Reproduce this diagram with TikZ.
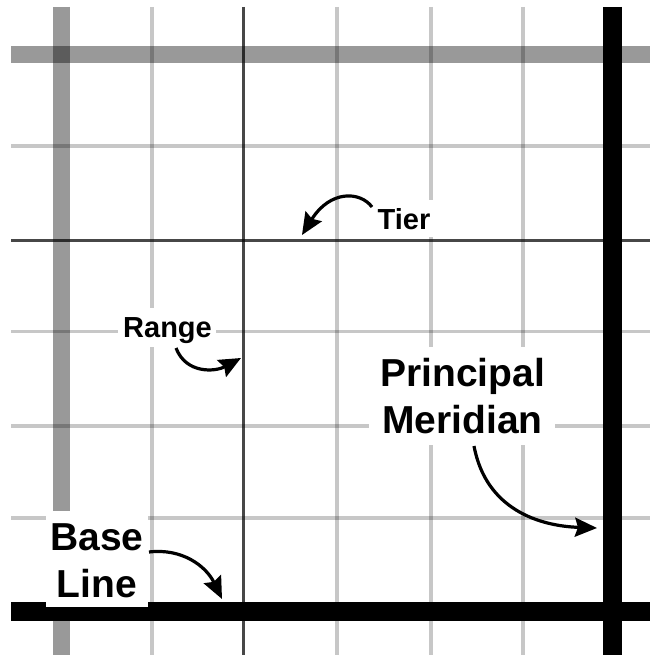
\documentclass[tikz,border=0pt]{standalone}
\usepackage{fontspec}
\setmainfont{Liberation Sans}
\usetikzlibrary{arrows.meta}
\tikzset{
  lightline/.style={draw=black, draw opacity=0.22, line width=3.5pt},
  darkline/.style={draw=black, draw opacity=0.72, line width=3pt},
  grayline/.style={draw=black, draw opacity=0.40, line width=17pt},
  blackline/.style={draw=black, line width=19pt},
  mask/.style={fill=white, draw=none, inner sep=0pt, rectangle},
  bigtxt/.style={inner sep=0pt, anchor=base, font=\fontsize{39pt}{46pt}\selectfont\bfseries},
  smalltxt/.style={inner sep=0pt, anchor=base, font=\fontsize{29pt}{34pt}\selectfont\bfseries},
  pointer/.style={line width=3.2pt, draw=black, -{Stealth[length=22pt,width=19pt,inset=3pt]}}
}
\begin{document}
\begin{tikzpicture}[x=1pt,y=-1pt]
\useasboundingbox (0,0) rectangle (650,655);
% light grid lines
\foreach \yy in {146,331.5,426,518} {\draw[lightline] (11,\yy) -- (650,\yy);}
\foreach \xx in {152,337,431,523} {\draw[lightline] (\xx,7) -- (\xx,655);}
% tier and range lines
\draw[darkline] (11,240) -- (650,240);
\draw[darkline] (243,7) -- (243,655);
% gray correction lines
\draw[grayline] (11,55) -- (650,55);
\draw[grayline] (61,7) -- (61,655);
% principal meridian and base line
\draw[blackline] (612.5,7) -- (612.5,655);
\draw[blackline] (11,611.5) -- (650,611.5);
% label backgrounds
\node[mask, minimum width=76pt, minimum height=37pt] (tierbox) at (403,218.5) {};
\node[mask, minimum width=98pt, minimum height=39pt] (rangebox) at (167,327.5) {};
\node[mask, minimum width=186pt, minimum height=98pt] (pmbox) at (462,396) {};
\node[mask, minimum width=102pt, minimum height=96pt] (blbox) at (97,559) {};
% labels
\node[smalltxt] (tier) at (404,229) {Tier};
\node[smalltxt] (range) at (167.5,337) {Range};
\node[bigtxt] (pm1) at (462.5,386) {Principal};
\node[bigtxt] (pm2) at (462.5,433) {Meridian};
\node[bigtxt] (bl1) at (97,550) {Base};
\node[bigtxt] (bl2) at (97,597) {Line};
% arrow end points
\coordinate (tierS) at (372,207);
\coordinate (tierE) at (302,235);
\coordinate (rangeS) at (176,348);
\coordinate (rangeE) at (241,358);
\coordinate (pmS) at (474,446);
\coordinate (pmE) at (597,528);
\coordinate (blS) at (149,552);
\coordinate (blE) at (222,599);
% arrows
\draw[pointer] (tierS) .. controls (360,191) and (330,190) .. (tierE);
\draw[pointer] (rangeS) .. controls (186,374) and (215,372) .. (rangeE);
\draw[pointer] (pmS) .. controls (486,510) and (540,526) .. (pmE);
\draw[pointer] (blS) .. controls (182,548) and (206,566) .. (blE);
\end{tikzpicture}
\end{document}
